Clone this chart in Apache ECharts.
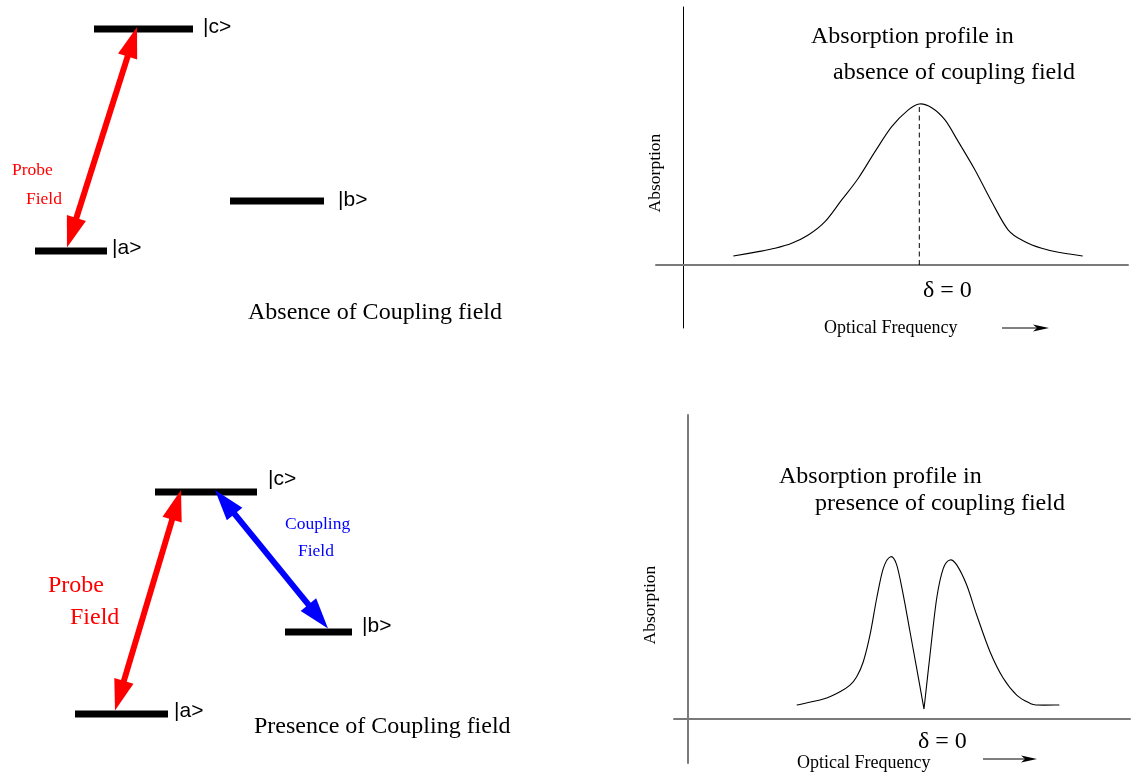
<!DOCTYPE html>
<html>
<head>
<meta charset="utf-8">
<script src="https://cdn.jsdelivr.net/npm/echarts@6/dist/echarts.min.js"></script>
<style>
  html, body { margin: 0; padding: 0; background: #ffffff; }
  #chart { width: 1132px; height: 775px; }
</style>
</head>
<body>
<div id="chart"></div>
<script>
// Three-level lambda system: relative energies (|a> = 0, |c> = 1)
const levelNames = ['|a>', '|b>', '|c>'];
const levelEnergyAbsent = [0, 0.225, 1];
const levelEnergyPresent = [0, 0.369, 1];

// Probe absorption without the coupling field (detuning, normalised absorption)
const freqAbsent = [5.03, 7.53, 9.2, 10.87, 12.53, 14.2, 15.87, 17.53, 19.2, 20.87, 22.53,
  23.63, 24.87, 26.2, 27.53, 29.2, 30.87, 32.53, 34.2, 35.87, 37.53, 39.97];
const absorbAbsent = [0.056, 0.083, 0.104, 0.135, 0.186, 0.269, 0.404, 0.539, 0.704, 0.859, 0.963,
  1.0, 0.977, 0.901, 0.766, 0.590, 0.393, 0.217, 0.145, 0.104, 0.079, 0.056];

// Probe absorption with the coupling field on: transparency dip at line centre
const freqPresent = [10.87, 13.53, 15.2, 16.2, 16.87, 17.53, 18.2, 18.87, 19.53, 20.27,
  20.87, 21.53, 22.2, 22.87, 23.6, 24.2, 24.87, 25.53, 26.2, 26.87,
  27.87, 28.87, 30.2, 31.53, 32.87, 34.2, 34.87, 37.13];
const absorbPresent = [0.087, 0.124, 0.170, 0.211, 0.263, 0.356, 0.522, 0.750, 0.936, 1.008,
  0.957, 0.770, 0.542, 0.315, 0.062, 0.398, 0.750, 0.936, 0.988, 0.957,
  0.832, 0.646, 0.418, 0.253, 0.149, 0.098, 0.087, 0.087];

// Horizontal layout of the level diagrams (axis units), label offsets in px
const diagramLayout = {
  absent: {
    levelSpan: [[3.5, 10.7], [23.0, 32.4], [9.4, 19.3]],
    labelOffset: [[5, -3], [14, -1], [10, -2]],
    probe: [6.7, 13.7]
  },
  present: {
    levelSpan: [[7.5, 16.8], [28.5, 35.2], [15.5, 25.7]],
    labelOffset: [[6, -3], [10, -6], [11, -13]],
    probe: [11.5, 18.1],
    coupling: [21.5, 32.8]
  }
};

const SERIF = '"Liberation Serif", "Times New Roman", serif';
const SANS = '"Liberation Sans", Arial, sans-serif';
const BAR = 7;

const zip = (xs, ys) => xs.map((x, i) => [x, ys[i]]);

// Smooth profile through the sampled points (Catmull-Rom as cubic Bezier),
// optionally with a sharp corner at breakIdx.
function curveSeries(gridIdx, xs, ys, breakIdx) {
  return {
    type: 'custom',
    coordinateSystem: 'cartesian2d',
    xAxisIndex: gridIdx, yAxisIndex: gridIdx,
    silent: true,
    data: zip(xs, ys),
    renderItem: function (params, api) {
      if (params.dataIndex !== 0) return null;
      const pts = xs.map((x, i) => api.coord([x, ys[i]]));
      const parts = breakIdx == null ? [pts] : [pts.slice(0, breakIdx + 1), pts.slice(breakIdx)];
      let d = '';
      parts.forEach(function (p) {
        const n = p.length;
        d += 'M' + p[0][0] + ' ' + p[0][1];
        for (let i = 0; i < n - 1; i++) {
          const p0 = p[Math.max(i - 1, 0)], p1 = p[i], p2 = p[i + 1], p3 = p[Math.min(i + 2, n - 1)];
          const c1x = p1[0] + (p2[0] - p0[0]) / 6, c1y = p1[1] + (p2[1] - p0[1]) / 6;
          const c2x = p2[0] - (p3[0] - p1[0]) / 6, c2y = p2[1] - (p3[1] - p1[1]) / 6;
          d += 'C' + c1x + ' ' + c1y + ' ' + c2x + ' ' + c2y + ' ' + p2[0] + ' ' + p2[1];
        }
      });
      return { type: 'path', shape: { pathData: d },
               style: { fill: 'none', stroke: '#000', lineWidth: 1.1 } };
    }
  };
}

function levelSeries(gridIdx, energies, layout) {
  return {
    type: 'custom',
    coordinateSystem: 'cartesian2d',
    xAxisIndex: gridIdx, yAxisIndex: gridIdx,
    silent: true,
    data: energies.map((e, i) => [layout.levelSpan[i][0], layout.levelSpan[i][1], e, i]),
    renderItem: function (params, api) {
      const i = api.value(3);
      const p0 = api.coord([api.value(0), api.value(2)]);
      const p1 = api.coord([api.value(1), api.value(2)]);
      const off = layout.labelOffset[i];
      return {
        type: 'group',
        children: [
          { type: 'rect', shape: { x: p0[0], y: p0[1] - BAR / 2, width: p1[0] - p0[0], height: BAR },
            style: { fill: '#000' } },
          { type: 'text', x: p1[0] + off[0], y: p0[1] + off[1],
            style: { text: levelNames[i], font: '21px ' + SANS, fill: '#000',
                     textAlign: 'left', textVerticalAlign: 'middle', align: 'left', verticalAlign: 'middle' } }
        ]
      };
    }
  };
}

// Double-headed transition arrows between two levels
function arrowSeries(gridIdx, items, color) {
  return {
    type: 'custom',
    coordinateSystem: 'cartesian2d',
    xAxisIndex: gridIdx, yAxisIndex: gridIdx,
    silent: true,
    z: 5,
    data: items,
    renderItem: function (params, api) {
      const e1 = api.value(1), e2 = api.value(3);
      const a = api.coord([api.value(0), e1]);
      const b = api.coord([api.value(2), e2]);
      // tips rest on the upper edge of the bars
      a[1] -= (e1 < e2 ? BAR / 2 : 2);
      b[1] -= (e2 < e1 ? BAR / 2 : 2);
      const L = 31, W = 10;
      const dx = b[0] - a[0], dy = b[1] - a[1];
      const len = Math.hypot(dx, dy);
      const ux = dx / len, uy = dy / len, px = -uy, py = ux;
      const head = (t, s) => [
        [t[0], t[1]],
        [t[0] - s * ux * L + px * W, t[1] - s * uy * L + py * W],
        [t[0] - s * ux * L - px * W, t[1] - s * uy * L - py * W]
      ];
      return {
        type: 'group',
        children: [
          { type: 'line', shape: { x1: a[0] + ux * L * 0.8, y1: a[1] + uy * L * 0.8,
                                   x2: b[0] - ux * L * 0.8, y2: b[1] - uy * L * 0.8 },
            style: { stroke: color, lineWidth: 6 } },
          { type: 'polygon', shape: { points: head(b, 1) }, style: { fill: color } },
          { type: 'polygon', shape: { points: head(a, -1) }, style: { fill: color } }
        ]
      };
    }
  };
}

function txt(text, x, y, size, opts) {
  opts = opts || {};
  return {
    type: 'text', x: x, y: y, silent: true,
    rotation: opts.rotation || 0,
    style: {
      text: text,
      font: size + 'px ' + (opts.family || SERIF),
      fill: opts.color || '#000',
      textAlign: opts.align || 'left', align: opts.align || 'left',
      textVerticalAlign: 'middle', verticalAlign: 'middle'
    }
  };
}

function freqArrow(x0, x1, y) {
  return {
    type: 'group', silent: true,
    children: [
      { type: 'line', shape: { x1: x0, y1: y, x2: x1 - 10, y2: y }, style: { stroke: '#000', lineWidth: 1 } },
      { type: 'polygon', shape: { points: [[x1, y], [x1 - 16, y - 3.5], [x1 - 12, y], [x1 - 16, y + 3.5]] },
        style: { fill: '#000' } }
    ]
  };
}

const hiddenAxis = (gridIndex, min, max) => ({ gridIndex, type: 'value', min, max, show: false });
const plotAxis = (gridIndex, min, max, color, width) => ({
  gridIndex, type: 'value', min, max,
  axisLine: { show: true, onZero: true, lineStyle: { color, width } },
  axisTick: { show: false }, axisLabel: { show: false }, splitLine: { show: false }
});

const peakIdx = absorbAbsent.indexOf(Math.max(...absorbAbsent));
const dipIdx = absorbPresent.indexOf(Math.min(...absorbPresent));

const option = {
  animation: false,
  backgroundColor: '#ffffff',
  grid: [
    { left: 656, right: 4, top: 7, bottom: 447 },
    { left: 674, right: 2, top: 415, bottom: 12 },
    { left: 0, width: 380, top: 29, height: 222 },
    { left: 0, width: 380, top: 492, height: 222 }
  ],
  xAxis: [
    plotAxis(0, -2.7, 44.5, '#7a7a7a', 2),
    plotAxis(1, -1.4, 44.2, '#7a7a7a', 2),
    hiddenAxis(2, 0, 38),
    hiddenAxis(3, 0, 38)
  ],
  yAxis: [
    plotAxis(0, -0.391, 1.602, '#000', 1),
    plotAxis(1, -0.273, 1.888, '#7a7a7a', 2),
    hiddenAxis(2, 0, 1),
    hiddenAxis(3, 0, 1)
  ],
  series: [
    curveSeries(0, freqAbsent, absorbAbsent, null),
    { type: 'line', xAxisIndex: 0, yAxisIndex: 0,
      data: [[freqAbsent[peakIdx], 0], [freqAbsent[peakIdx], absorbAbsent[peakIdx]]],
      symbol: 'none', lineStyle: { color: '#000', width: 1, type: [5, 3.5] }, silent: true },
    curveSeries(1, freqPresent, absorbPresent, dipIdx),

    levelSeries(2, levelEnergyAbsent, diagramLayout.absent),
    arrowSeries(2, [[diagramLayout.absent.probe[0], levelEnergyAbsent[0],
                     diagramLayout.absent.probe[1], levelEnergyAbsent[2]]], '#ff0000'),
    levelSeries(3, levelEnergyPresent, diagramLayout.present),
    arrowSeries(3, [[diagramLayout.present.probe[0], levelEnergyPresent[0],
                     diagramLayout.present.probe[1], levelEnergyPresent[2]]], '#ff0000'),
    arrowSeries(3, [[diagramLayout.present.coupling[0], levelEnergyPresent[2],
                     diagramLayout.present.coupling[1], levelEnergyPresent[1]]], '#0000ff')
  ],
  graphic: [
    // level diagram captions
    txt('Probe', 12, 170, 17.5, { color: '#ff0000' }),
    txt('Field', 26, 199, 17.5, { color: '#ff0000' }),
    txt('Absence of Coupling field', 248, 313, 24),
    txt('Probe', 48, 586, 24, { color: '#ff0000' }),
    txt('Field', 70, 618, 24, { color: '#ff0000' }),
    txt('Coupling', 285, 524, 17.5, { color: '#0000ff' }),
    txt('Field', 298, 551, 17.5, { color: '#0000ff' }),
    txt('Presence of Coupling field', 254, 727, 24),

    // absorption panels
    txt('Absorption profile in', 811, 37, 24),
    txt('absence of coupling field', 833, 73, 24),
    txt('Absorption', 655, 173, 17.5, { rotation: Math.PI / 2, align: 'center' }),
    txt('\u03b4 = 0', 923, 291, 24),
    txt('Optical Frequency', 824, 328, 18),
    freqArrow(1002, 1049, 328),

    txt('Absorption profile in', 779, 477, 24),
    txt('presence of coupling field', 815, 504, 24),
    txt('Absorption', 650, 605, 17.5, { rotation: Math.PI / 2, align: 'center' }),
    txt('\u03b4 = 0', 918, 742, 24),
    txt('Optical Frequency', 797, 763, 18),
    freqArrow(983, 1037, 759)
  ]
};

const chart = echarts.init(document.getElementById('chart'), null, { renderer: 'canvas' });
chart.setOption(option);
</script>
</body>
</html>
